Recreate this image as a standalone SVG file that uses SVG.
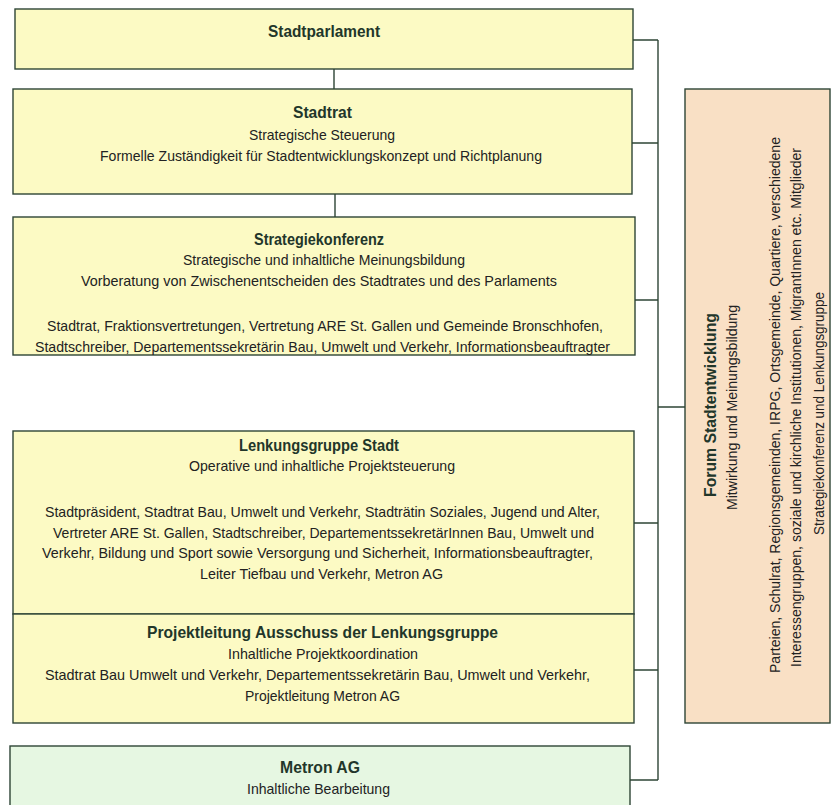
<svg xmlns="http://www.w3.org/2000/svg" width="831" height="805" viewBox="0 0 831 805">
<style>
.box{stroke:#2e4536;stroke-width:1.4}
.y{fill:#fcfac4}
.f{fill:#f9e0c5}
.g{fill:#e6f7e2}
text{font-family:"Liberation Sans Narrow","Liberation Sans",Arial,sans-serif;fill:#222;text-anchor:middle}
.t{font-size:16.5px;font-weight:bold;fill:#22362a}
.r{font-size:15px}
.c{fill:none;stroke:#2e4536;stroke-width:1.4}
</style>
<rect width="831" height="805" fill="#ffffff"/>
<g id="connectors">
<path class="c" d="M334 69V89M335 194V217M658 40V780M633 40H658M632 143H658M635 300H658M634 523H658M634 670H658M630 780H658M658 407H685"/>
</g>
<g id="stadtparlament">
<rect class="box y" x="15" y="9" width="618" height="60"/>
<text class="t" x="324" y="37" textLength="112" lengthAdjust="spacingAndGlyphs">Stadtparlament</text>
</g>
<g id="stadtrat">
<rect class="box y" x="13" y="89" width="619" height="105"/>
<text class="t" x="322.5" y="118" textLength="59" lengthAdjust="spacingAndGlyphs">Stadtrat</text>
<text class="r" x="322" y="140" textLength="146" lengthAdjust="spacingAndGlyphs">Strategische Steuerung</text>
<text class="r" x="321" y="161" textLength="442" lengthAdjust="spacingAndGlyphs">Formelle Zuständigkeit für Stadtentwicklungskonzept und Richtplanung</text>
</g>
<g id="strategiekonferenz">
<rect class="box y" x="13" y="217" width="622" height="138"/>
<text class="t" x="319" y="245" textLength="130" lengthAdjust="spacingAndGlyphs">Strategiekonferenz</text>
<text class="r" x="324" y="265" textLength="282" lengthAdjust="spacingAndGlyphs">Strategische und inhaltliche Meinungsbildung</text>
<text class="r" x="319" y="286" textLength="476" lengthAdjust="spacingAndGlyphs">Vorberatung von Zwischenentscheiden des Stadtrates und des Parlaments</text>
<text class="r" x="325" y="331" textLength="556" lengthAdjust="spacingAndGlyphs">Stadtrat, Fraktionsvertretungen, Vertretung ARE St. Gallen und Gemeinde Bronschhofen,</text>
<text class="r" x="322.5" y="352" textLength="575" lengthAdjust="spacingAndGlyphs">Stadtschreiber, Departementssekretärin Bau, Umwelt und Verkehr, Informationsbeauftragter</text>
</g>
<g id="lenkungsgruppe">
<rect class="box y" x="13" y="431" width="621" height="183"/>
<text class="t" x="319" y="451" textLength="160" lengthAdjust="spacingAndGlyphs">Lenkungsgruppe Stadt</text>
<text class="r" x="322" y="471" textLength="266" lengthAdjust="spacingAndGlyphs">Operative und inhaltliche Projektsteuerung</text>
<text class="r" x="322.5" y="517" textLength="555" lengthAdjust="spacingAndGlyphs">Stadtpräsident, Stadtrat Bau, Umwelt und Verkehr, Stadträtin Soziales, Jugend und Alter,</text>
<text class="r" x="323.5" y="538" textLength="541" lengthAdjust="spacingAndGlyphs">Vertreter ARE St. Gallen, Stadtschreiber, DepartementssekretärInnen Bau, Umwelt und</text>
<text class="r" x="317.5" y="558" textLength="551" lengthAdjust="spacingAndGlyphs">Verkehr, Bildung und Sport sowie Versorgung und Sicherheit, Informationsbeauftragter,</text>
<text class="r" x="321.5" y="579" textLength="243" lengthAdjust="spacingAndGlyphs">Leiter Tiefbau und Verkehr, Metron AG</text>
</g>
<g id="projektleitung">
<rect class="box y" x="13" y="614" width="621" height="109"/>
<text class="t" x="322.5" y="638" textLength="351" lengthAdjust="spacingAndGlyphs">Projektleitung Ausschuss der Lenkungsgruppe</text>
<text class="r" x="323" y="659" textLength="190" lengthAdjust="spacingAndGlyphs">Inhaltliche Projektkoordination</text>
<text class="r" x="317.5" y="680" textLength="545" lengthAdjust="spacingAndGlyphs">Stadtrat Bau Umwelt und Verkehr, Departementssekretärin Bau, Umwelt und Verkehr,</text>
<text class="r" x="322.5" y="701" textLength="155" lengthAdjust="spacingAndGlyphs">Projektleitung Metron AG</text>
</g>
<g id="metron">
<rect class="box g" x="10" y="746" width="620" height="70"/>
<text class="t" x="320" y="773" textLength="80" lengthAdjust="spacingAndGlyphs">Metron AG</text>
<text class="r" x="318.5" y="794" textLength="143" lengthAdjust="spacingAndGlyphs">Inhaltliche Bearbeitung</text>
</g>
<g id="forum">
<rect class="box f" x="685" y="89" width="145" height="634"/>
<text class="t" transform="translate(716,405) rotate(-90)" textLength="184" lengthAdjust="spacingAndGlyphs">Forum Stadtentwicklung</text>
<text class="r" transform="translate(736.5,407.5) rotate(-90)" textLength="205" lengthAdjust="spacingAndGlyphs">Mitwirkung und Meinungsbildung</text>
<text class="r" transform="translate(780,405) rotate(-90)" textLength="536" lengthAdjust="spacingAndGlyphs">Parteien, Schulrat, Regionsgemeinden, IRPG, Ortsgemeinde, Quartiere, verschiedene</text>
<text class="r" transform="translate(801,407.5) rotate(-90)" textLength="519" lengthAdjust="spacingAndGlyphs">Interessengruppen, soziale und kirchliche Institutionen, MigrantInnen etc. Mitglieder</text>
<text class="r" transform="translate(823.5,413.5) rotate(-90)" textLength="243" lengthAdjust="spacingAndGlyphs">Strategiekonferenz und Lenkungsgruppe</text>
</g>
</svg>
